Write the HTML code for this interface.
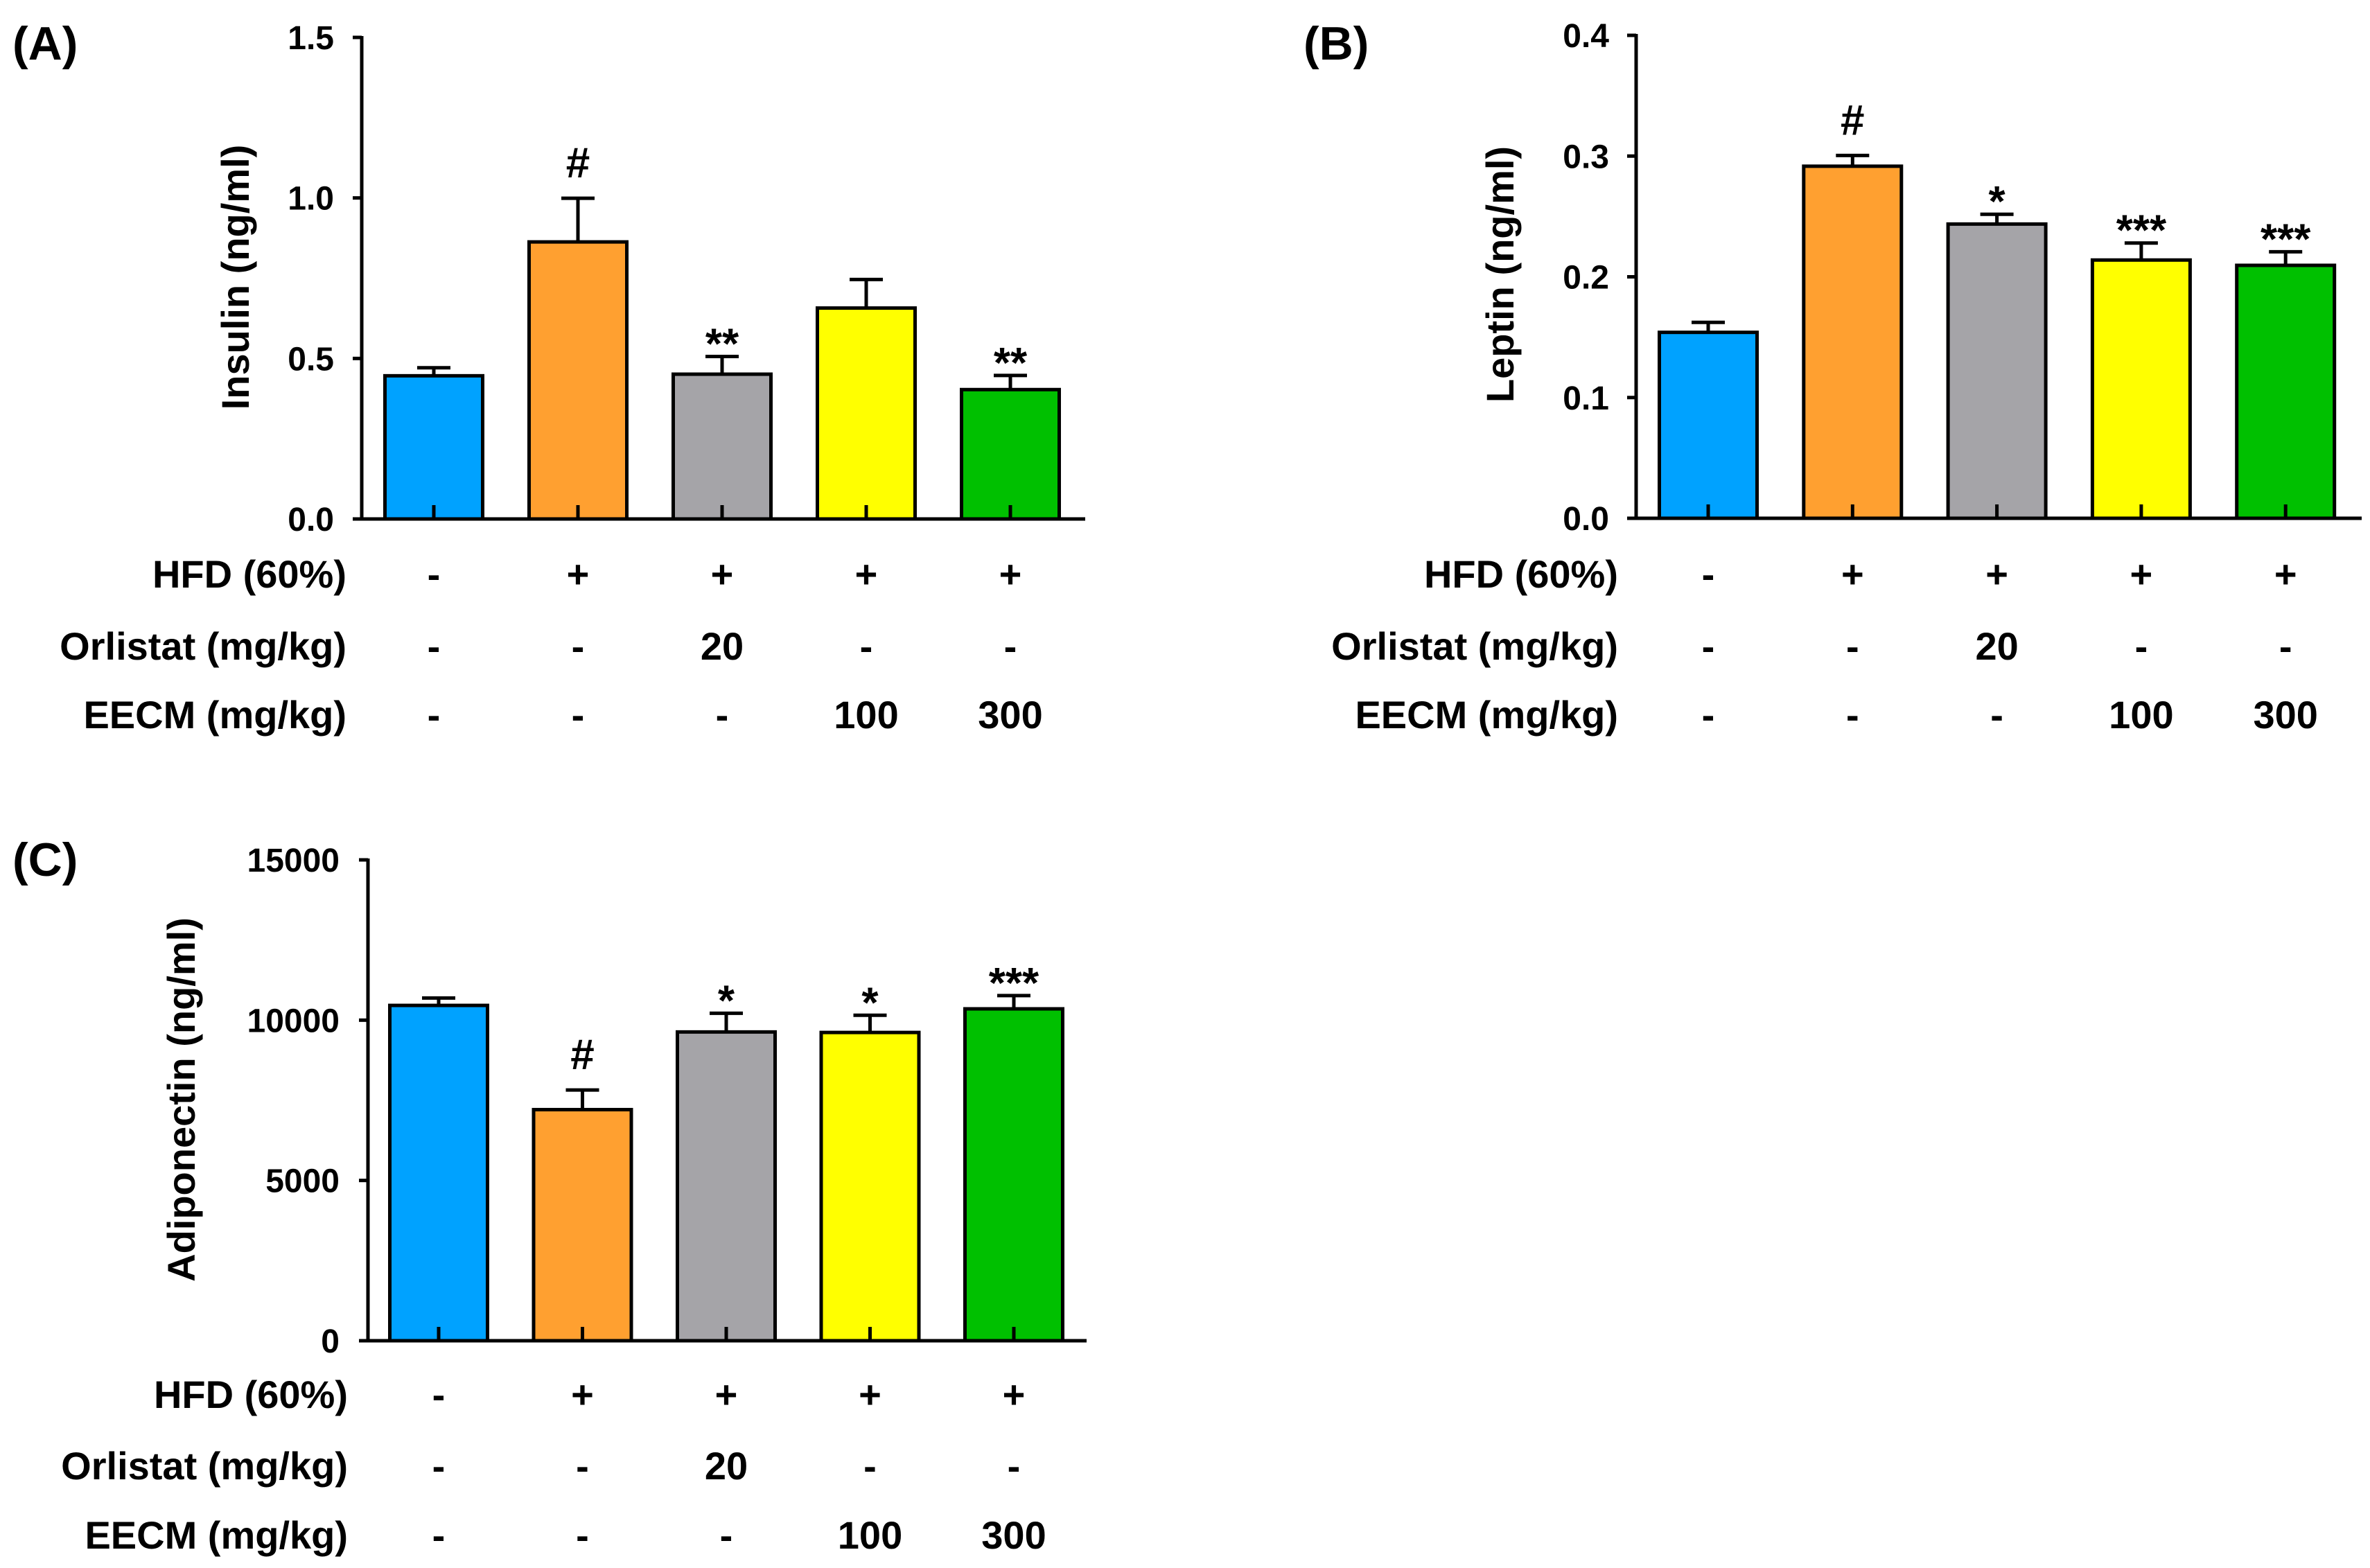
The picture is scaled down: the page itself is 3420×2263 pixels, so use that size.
<!DOCTYPE html>
<html><head><meta charset="utf-8"><style>
html,body{margin:0;padding:0;background:#fff}
svg{display:block}
text{font-family:"Liberation Sans",Arial,sans-serif;font-weight:bold;fill:#000}
</style></head><body>
<svg id="fig" width="3420" height="2263" viewBox="0 0 3420 2263" xmlns="http://www.w3.org/2000/svg"></svg>
<script>
const categories = ["Control","HFD","HFD+Orlistat 20","HFD+EECM 100","HFD+EECM 300"];
const barColors = ["#00A2FF","#FFA030","#A5A4A8","#FFFF00","#00C000"];
const hfdRow = ["-","+","+","+","+"];
const orlistatRow = ["-","-","20","-","-"];
const eecmRow = ["-","-","-","100","300"];
const insulinMean = [0.446,0.863,0.451,0.657,0.403];
const insulinErr = [0.471,0.999,0.506,0.746,0.447];
const insulinSig = ["","#","**","","**"];
const insulinTicks = [0,0.5,1.0,1.5];
const insulinTickLabels = ["0.0","0.5","1.0","1.5"];
const leptinMean = [0.154,0.2916,0.2437,0.2139,0.2095];
const leptinErr = [0.1623,0.3005,0.2518,0.228,0.2207];
const leptinSig = ["","#","*","***","***"];
const leptinTicks = [0,0.1,0.2,0.3,0.4];
const leptinTickLabels = ["0.0","0.1","0.2","0.3","0.4"];
const adipoMean = [10460,7209,9632,9616,10353];
const adipoErr = [10690,7822,10215,10153,10767];
const adipoSig = ["","#","*","*","***"];
const adipoTicks = [0,5000,10000,15000];
const adipoTickLabels = ["0","5000","10000","15000"];

const NS="http://www.w3.org/2000/svg";
const svg=document.getElementById('fig');
function mk(tag,attrs,parent){const e=document.createElementNS(NS,tag);for(const k in attrs)e.setAttribute(k,attrs[k]);(parent||svg).appendChild(e);return e;}

function panel(o){
  const g=mk('g',{});
  
  
  const yScale=v=>o.y0-(v-o.ticks[0])/(o.ticks[o.ticks.length-1]-o.ticks[0])*(o.y0-o.yTop);
  const xScale=i=>o.x0c+i*o.step;
  const bw=141;
  const L=mk('text',{x:o.letterX,y:o.letterY,'font-size':68},g); L.textContent=o.letter;
  
  
  o.mean.forEach((v,i)=>{
    const cx=xScale(i);
    const yt=yScale(v), ye=yScale(o.err[i]);
    const el=mk('line',{x1:cx,x2:cx,y1:yt,y2:ye,stroke:'#000','stroke-width':5},g);
    
    
    const cap=mk('line',{x1:cx-24,x2:cx+24,y1:ye,y2:ye,stroke:'#000','stroke-width':5},g);
    
    
    const r=mk('rect',{x:cx-bw/2,y:yt,width:bw,height:o.y0-yt,fill:barColors[i],stroke:'#000','stroke-width':5},g);
    
    
    const tk=mk('line',{x1:cx,x2:cx,y1:o.y0,y2:o.y0-20,stroke:'#000','stroke-width':5},g);
    
    
    const s=o.sig[i];
    if(s){
      const isHash=s==='#';
      const t=mk('text',{x:cx,y:isHash?ye-30:ye+3,'font-size':62,'text-anchor':'middle'},g);
      t.textContent=s;
      
      
    }
  });
  const ya=mk('line',{x1:o.ax,x2:o.ax,y1:o.yTop-2,y2:o.y0+2,stroke:'#000','stroke-width':5},g);
  
  
  const xa=mk('line',{x1:o.ax-2,x2:o.axEnd,y1:o.y0,y2:o.y0,stroke:'#000','stroke-width':5},g);
  
  
  o.ticks.forEach((v,i)=>{
    const y=yScale(v);
    const tl=mk('line',{x1:o.ax-13,x2:o.ax,y1:y,y2:y,stroke:'#000','stroke-width':5},g);
    
    
    const t=mk('text',{x:o.tickRight,y:y+17,'font-size':48,'text-anchor':'end'},g);
    t.textContent=o.tickLabels[i];
    
    
  });
  const yt=mk('text',{x:0,y:0,'font-size':56,'text-anchor':'middle',transform:`translate(${o.titleX},${o.titleY}) rotate(-90)`},g);
  yt.textContent=o.title;
  
  
  const rows=[["HFD (60%)",hfdRow],["Orlistat (mg/kg)",orlistatRow],["EECM (mg/kg)",eecmRow]];
  rows.forEach((rw,ri)=>{
    const yy=o.rowY[ri]+20;
    const t=mk('text',{x:o.labelRight,y:yy,'font-size':56,'text-anchor':'end'},g);
    t.textContent=rw[0];
    
    
    rw[1].forEach((s,i)=>{
      const c=mk('text',{x:xScale(i),y:yy,'font-size':56,'text-anchor':'middle'},g);
      c.textContent=s;
      
      
    });
  });
}

panel({id:'panel-a-insulin',letter:'(A)',letterX:18,letterY:86,mean:insulinMean,err:insulinErr,sig:insulinSig,ticks:insulinTicks,tickLabels:insulinTickLabels,
  title:'Insulin (ng/ml)',titleX:359,titleY:400,ax:522,axEnd:1566,y0:749,yTop:54,x0c:626,step:208,tickRight:482,labelRight:500,rowY:[828,932,1031]});
panel({id:'panel-b-leptin',letter:'(B)',letterX:1881,letterY:86,mean:leptinMean,err:leptinErr,sig:leptinSig,ticks:leptinTicks,tickLabels:leptinTickLabels,
  title:'Leptin (ng/ml)',titleX:2184,titleY:396,ax:2361,axEnd:3408,y0:748,yTop:51,x0c:2465,step:208.3,tickRight:2322,labelRight:2335,rowY:[828,932,1031]});
panel({id:'panel-c-adiponectin',letter:'(C)',letterX:18,letterY:1264,mean:adipoMean,err:adipoErr,sig:adipoSig,ticks:adipoTicks,tickLabels:adipoTickLabels,
  title:'Adiponectin (ng/ml)',titleX:281,titleY:1587,ax:531,axEnd:1568,y0:1935,yTop:1241,x0c:633,step:207.5,tickRight:490,labelRight:502,rowY:[2012,2115,2215]});
</script>
</body></html>
